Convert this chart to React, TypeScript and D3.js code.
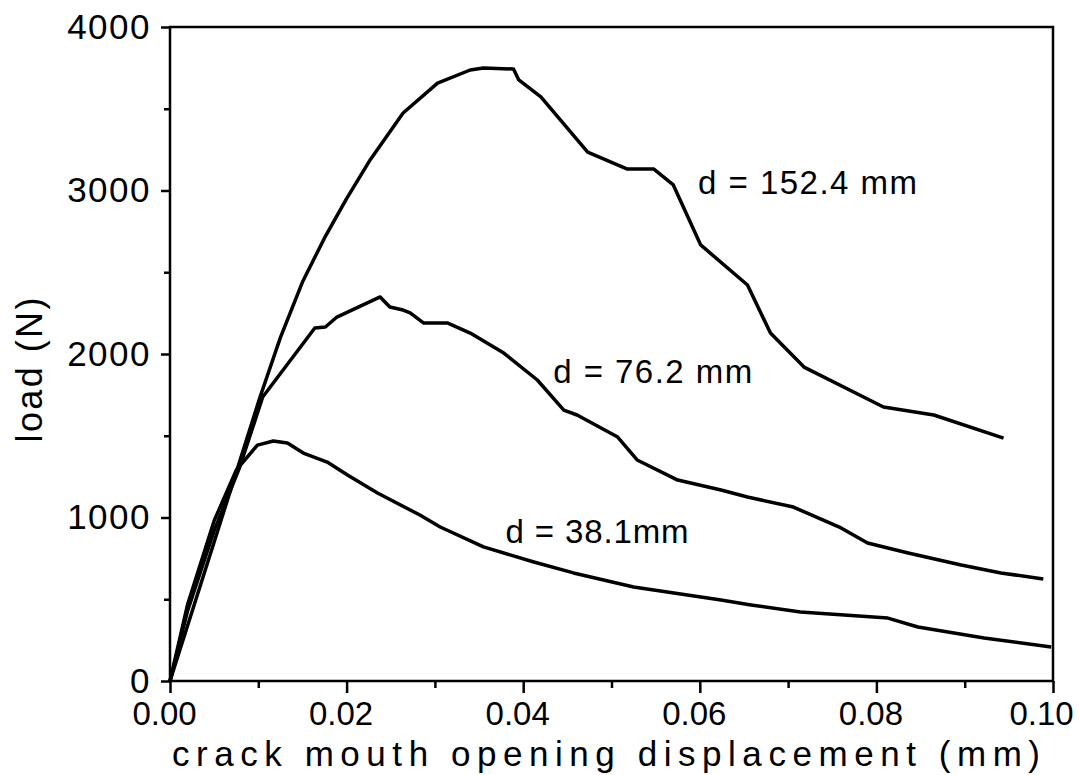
import React, { useRef, useEffect } from 'react';
import { select, scaleLinear, axisBottom, axisLeft, line, format } from 'd3';

// crack mouth opening displacement (mm) / load (N)
const cmod152 = [0, 0.005, 0.0102, 0.0125, 0.015, 0.0175, 0.02, 0.0227, 0.0264, 0.0303, 0.034, 0.0355, 0.0389, 0.0395, 0.042, 0.0473, 0.0518, 0.0548, 0.057, 0.0601, 0.0654, 0.068, 0.0718, 0.0808, 0.0865, 0.0944];
const load152 = [0, 850, 1737, 2100, 2440, 2710, 2950, 3190, 3474, 3657, 3737, 3749, 3743, 3676, 3572, 3235, 3131, 3131, 3034, 2667, 2422, 2128, 1920, 1676, 1627, 1486];

const cmod76 = [0, 0.002, 0.005, 0.0079, 0.0105, 0.0164, 0.0176, 0.0189, 0.0238, 0.0249, 0.0264, 0.0272, 0.0287, 0.0314, 0.034, 0.0378, 0.0416, 0.0446, 0.0461, 0.0507, 0.0529, 0.0575, 0.0624, 0.0654, 0.0706, 0.076, 0.079, 0.0836, 0.0896, 0.0941, 0.0989];
const load76 = [0, 430, 920, 1309, 1737, 2159, 2165, 2226, 2349, 2287, 2269, 2251, 2190, 2190, 2128, 2006, 1841, 1657, 1627, 1492, 1352, 1229, 1168, 1125, 1064, 936, 844, 783, 709, 661, 624];

const cmod38 = [0, 0.002, 0.005, 0.0075, 0.0099, 0.0117, 0.0133, 0.0151, 0.0178, 0.0201, 0.0235, 0.0283, 0.0306, 0.0355, 0.0412, 0.0457, 0.0525, 0.0624, 0.0658, 0.0714, 0.0813, 0.0847, 0.0922, 0.0998];
const load38 = [0, 470, 980, 1290, 1443, 1468, 1456, 1394, 1339, 1260, 1150, 1015, 942, 820, 728, 661, 575, 495, 465, 422, 385, 330, 263, 208];

const xTicks = [0, 0.02, 0.04, 0.06, 0.08, 0.1];
const xMinor = [0.01, 0.03, 0.05, 0.07, 0.09];
const yTicks = [0, 1000, 2000, 3000, 4000];
const yMinor = [500, 1500, 2500, 3500];

const curveLabels = ['d = 152.4 mm', 'd = 76.2 mm', 'd = 38.1mm'];

const FONT = '"Liberation Sans", Arial, sans-serif';

const App = () => {
    const svgRef = useRef<SVGSVGElement>(null);

    useEffect(() => {
        const svg = select(svgRef.current);
        svg.selectAll('*').remove();

        const x = scaleLinear().domain([0, 0.1]).range([170, 1053]);
        const y = scaleLinear().domain([0, 4000]).range([681, 27]);

        // frame
        svg.append('rect')
            .attr('x', x(0)).attr('y', y(4000))
            .attr('width', x(0.1) - x(0)).attr('height', y(0) - y(4000))
            .attr('fill', 'none').attr('stroke', '#000').attr('stroke-width', 2.5);

        const styleAxis = (g: any, size: number) => {
            g.select('.domain').remove();
            g.selectAll('line').attr('stroke', '#000').attr('stroke-width', 2.5);
            g.selectAll('text').attr('fill', '#000').style('font-family', FONT).style('font-size', size + 'px');
        };

        svg.append('g')
            .attr('transform', `translate(0,${y(0)})`)
            .call(axisBottom(x).tickValues(xTicks).tickSize(12).tickPadding(9).tickFormat(format('.2f')))
            .call(styleAxis, 33)
            .selectAll('text').attr('dx', (d: any, i: number) => (i === xTicks.length - 1 ? -12 : -6));
        svg.append('g')
            .attr('transform', `translate(0,${y(0)})`)
            .call(axisBottom(x).tickValues(xMinor).tickSize(7).tickFormat(() => ''))
            .call(styleAxis, 33);

        svg.append('g')
            .attr('transform', `translate(${x(0)},0)`)
            .call(axisLeft(y).tickValues(yTicks).tickSize(9).tickPadding(10).tickFormat(format('d')))
            .call(styleAxis, 35)
            .selectAll('text').style('letter-spacing', '1.5px');
        svg.append('g')
            .attr('transform', `translate(${x(0)},0)`)
            .call(axisLeft(y).tickValues(yMinor).tickSize(6).tickFormat(() => ''))
            .call(styleAxis, 35);

        // curves
        const series = [
            { xs: cmod152, ys: load152 },
            { xs: cmod76, ys: load76 },
            { xs: cmod38, ys: load38 },
        ];
        const gen = line<[number, number]>().x(d => x(d[0])).y(d => y(d[1]));
        series.forEach(s => {
            const pts = s.xs.map((v, i) => [v, s.ys[i]] as [number, number]);
            svg.append('path')
                .attr('d', gen(pts))
                .attr('fill', 'none')
                .attr('stroke', '#000')
                .attr('stroke-width', 3.5)
                .attr('stroke-linejoin', 'round');
        });

        // curve labels
        const labelPos = [
            { v: 0.0598, l: 2980, w: 219 },
            { v: 0.0434, l: 1825, w: 199 },
            { v: 0.0380, l: 845, w: 183 },
        ];
        svg.selectAll('.clabel')
            .data(curveLabels)
            .join('text')
            .attr('class', 'clabel')
            .attr('x', (d, i) => x(labelPos[i].v))
            .attr('y', (d, i) => y(labelPos[i].l))
            .attr('textLength', (d, i) => labelPos[i].w)
            .attr('lengthAdjust', 'spacing')
            .style('font-family', FONT)
            .style('font-size', '33px')
            .text(d => d);

        // axis titles
        svg.append('text')
            .attr('x', 172).attr('y', 766)
            .attr('textLength', 868).attr('lengthAdjust', 'spacing')
            .style('font-family', FONT).style('font-size', '35px')
            .text('crack mouth opening displacement (mm)');

        svg.append('text')
            .attr('transform', `translate(42,${370}) rotate(-90)`)
            .attr('text-anchor', 'middle')
            .attr('textLength', 145).attr('lengthAdjust', 'spacing')
            .style('font-family', FONT).style('font-size', '36px')
            .text('load (N)');
    }, []);

    return (
        <svg ref={svgRef} width={1080} height={775}
             style={{ position: 'absolute', left: 0, top: 0, background: '#fff' }} />
    );
};

export default App;
